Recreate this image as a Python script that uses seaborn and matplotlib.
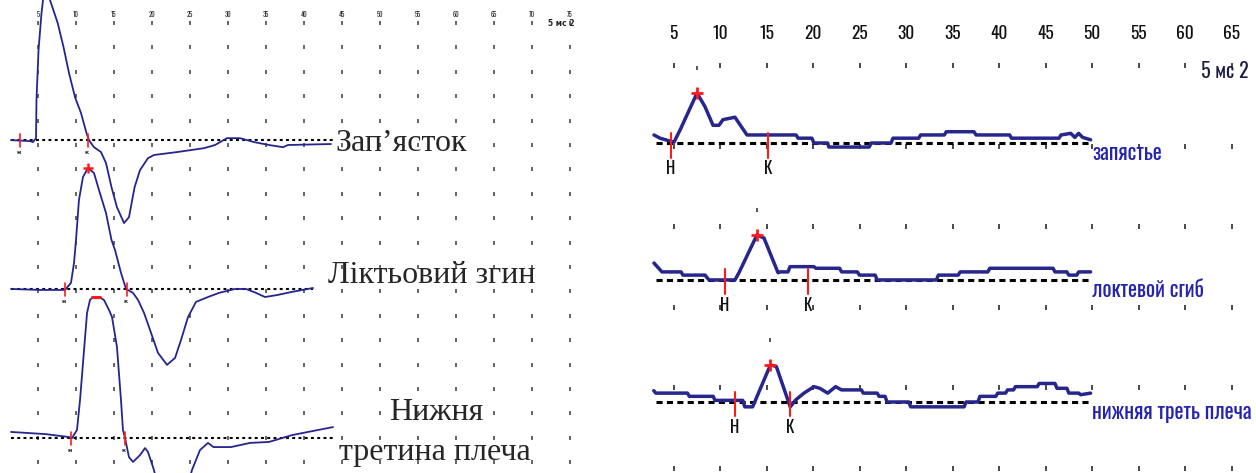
import numpy as np
import pandas as pd
import matplotlib
matplotlib.use("Agg")
import matplotlib.pyplot as plt
import seaborn as sns

sns.set_style("white")
plt.rcParams["font.family"] = ["DejaVu Sans"]

TRACE_L = "#25258f"
TRACE_R = "#26268c"
NARROW = ["Oswald", "Open Sans Condensed", "DejaVu Sans"]
SERIF = ["Liberation Serif", "DejaVu Serif"]

# ---------------- left recording (time in ms, amplitude in grid divisions) ----------------
left_ticks = [5, 10, 15, 20, 25, 30, 35, 40, 45, 50, 55, 60, 65, 70, 75]
left_rows = list(range(0, -19, -1))
left_offsets = [-4.80, -10.90, -17.01]
left_base_end = [44.1, 41.2, 43.8]

wrist_t = [1.45, 3.95, 4.34, 4.74, 4.80, 5.07, 5.46, 5.66, 6.05, 6.58, 7.59, 8.36, 9.08,
           9.87, 10.66, 11.38, 11.71, 12.37, 13.29, 13.95, 14.67, 15.39, 16.32, 16.97,
           17.71, 18.42, 19.47, 20.26, 23.29, 26.84, 28.29, 29.87, 31.58, 33.42, 35.39,
           37.24, 37.89, 43.55]
wrist_a = [0.00, -0.04, -0.08, 0.08, 1.64, 3.69, 5.20, 5.74, 6.56, 5.74, 4.80, 3.81, 2.75,
           1.76, 1.11, 0.29, 0.00, -0.29, -0.49, -0.94, -1.93, -2.75, -3.40, -3.16,
           -1.93, -1.23, -0.74, -0.61, -0.49, -0.33, -0.20, 0.08, 0.08, -0.08, -0.20,
           -0.29, -0.20, -0.16]

elbow_t = [1.45, 5.26, 8.55, 9.34, 9.74, 10.00, 10.39, 10.92, 11.58, 12.37, 13.03, 13.95,
           14.67, 15.13, 15.92, 16.58, 17.50, 18.16, 18.95, 19.74, 20.79, 21.97, 23.03,
           23.82, 24.74, 25.79, 27.37, 28.82, 30.92, 32.37, 33.68, 34.87, 36.45, 38.42,
           41.18]
elbow_a = [0.00, -0.04, -0.04, 0.25, 1.07, 2.01, 3.65, 4.59, 4.96, 4.75, 4.05, 3.11,
           2.01, 1.60, 0.66, 0.00, -0.16, -0.45, -0.98, -1.68, -2.62, -3.11, -2.83,
           -2.09, -1.15, -0.53, -0.33, -0.16, 0.00, 0.00, -0.16, -0.33, -0.25, -0.12,
           0.04]

arm_t = [1.45, 6.05, 9.08, 9.47, 10.13, 10.53, 10.92, 11.45, 11.84, 12.24, 13.03, 13.68,
         14.34, 14.74, 15.39, 15.92, 16.18, 16.45, 16.97, 17.50, 18.42, 19.08, 19.47,
         20.26, 21.05, 22.63, 24.34, 25.26, 26.32, 27.37, 28.09, 30.39, 32.89, 35.39,
         38.42, 40.53, 43.82]
arm_a = [0.25, 0.16, 0.04, 0.00, 0.33, 1.56, 3.07, 5.12, 5.66, 5.78, 5.78, 5.66,
         5.25, 4.96, 3.73, 1.56, 0.33, 0.00, -0.78, -0.98, -0.70, -0.41, -0.57,
         -1.31, -2.34, -2.95, -2.34, -1.31, -0.49, -0.20, -0.37, -0.37, -0.20, -0.16,
         0.12, 0.25, 0.45]

left_onset = [2.63, 8.55, 9.34]
left_end = [11.58, 16.71, 16.45]
left_peak_t = [11.58, 12.65]
left_peak_a = [4.96, 5.78]

# ---------------- right recording ----------------
right_ticks = [5, 10, 15, 20, 25, 30, 35, 40, 45, 50, 55, 60, 65]
right_rows = [0, -1, -2, -3, -4, -5]
right_offsets = [-0.968, -2.667, -4.181]
right_names = ["запястье", "локтевой сгиб", "нижняя треть плеча"]

zap_t = [2.90, 3.55, 5.05, 5.70, 7.53, 8.39, 9.25, 9.89, 10.32, 11.61, 12.90, 18.18,
         18.40, 19.88, 20.10, 21.58, 21.70, 26.04, 26.26, 28.39, 28.60, 31.37, 31.57,
         34.12, 34.33, 37.31, 37.53, 41.14, 41.34, 46.45, 46.67, 47.72, 48.15, 48.56,
         48.99, 49.85]
zap_a = [0.10, 0.06, 0.01, 0.16, 0.62, 0.45, 0.22, 0.22, 0.29, 0.32, 0.10, 0.10,
         0.06, 0.06, 0.00, 0.00, -0.05, -0.05, 0.00, 0.00, 0.06, 0.06, 0.10,
         0.10, 0.14, 0.14, 0.10, 0.10, 0.06, 0.06, 0.10, 0.12, 0.07, 0.12,
         0.07, 0.04]

lok_t = [2.90, 3.76, 5.81, 6.02, 8.39, 8.82, 11.61, 12.04, 13.98, 14.73, 16.24, 16.45,
         17.31, 17.53, 20.10, 20.31, 22.86, 23.08, 24.77, 24.99, 26.69, 26.90, 33.27,
         33.48, 35.61, 35.83, 38.80, 39.01, 45.81, 46.02, 47.30, 47.51, 48.36, 48.57,
         49.85]
lok_a = [0.21, 0.10, 0.10, 0.06, 0.06, 0.00, 0.00, 0.09, 0.56, 0.52, 0.09, 0.10,
         0.10, 0.165, 0.165, 0.145, 0.145, 0.10, 0.10, 0.06, 0.06, 0.00, 0.00,
         0.06, 0.06, 0.10, 0.10, 0.145, 0.145, 0.10, 0.10, 0.06, 0.06, 0.10,
         0.10]

ple_t = [2.88, 3.10, 6.50, 6.71, 9.26, 9.47, 12.45, 12.66, 13.51, 15.42, 16.06, 17.55,
         18.18, 19.03, 20.10, 20.73, 21.58, 22.43, 23.07, 25.20, 25.41, 26.90, 27.11,
         27.75, 27.96, 30.30, 30.51, 36.25, 36.46, 37.73, 37.95, 39.65, 39.86, 40.71,
         40.92, 41.56, 41.77, 44.11, 44.32, 46.02, 46.23, 47.30, 47.51, 48.57, 48.78,
         49.85]
ple_a = [0.14, 0.11, 0.11, 0.07, 0.07, 0.02, 0.02, -0.06, -0.06, 0.46, 0.44, -0.06,
         0.03, 0.11, 0.19, 0.17, 0.11, 0.19, 0.15, 0.15, 0.11, 0.11, 0.07,
         0.07, 0.00, 0.00, -0.06, -0.06, 0.00, 0.00, 0.07, 0.07, 0.11, 0.11,
         0.15, 0.15, 0.19, 0.19, 0.23, 0.23, 0.17, 0.17, 0.11, 0.11, 0.09,
         0.11]

right_onset = [4.73, 10.54, 11.61]
right_end = [15.16, 19.46, 17.53]
right_peak_t = [7.53, 13.98, 15.42]
right_peak_a = [0.62, 0.56, 0.46]

# ---------------- figure ----------------
W, H = 1256, 473
fig = plt.figure(figsize=(W / 100, H / 100), dpi=100)
split = 620
axL = fig.add_axes([0, 0, split / W, 1])
axR = fig.add_axes([split / W, 0, (W - split) / W, 1])

axL.set_xlim(0, split / 7.6)
axL.set_ylim(-(H - 23) / 24.4, 23 / 24.4)
axR.set_xlim((split - 627) / 9.3, (W - 627) / 9.3)
axR.set_ylim(-(H - 65) / 80.6, 65 / 80.6)
for ax in (axL, axR):
    ax.set_axis_off()

# dot grids
gx, gy = np.meshgrid(left_ticks, left_rows)
axL.plot(gx.ravel(), gy.ravel(), ls="none", marker="|", ms=2.6, mew=1.1,
         color="#3a3a3a", zorder=1)
gx, gy = np.meshgrid(right_ticks, right_rows)
axR.plot(gx.ravel(), gy.ravel(), ls="none", marker="|", ms=3.6, mew=1.3,
         color="#3a3a3a", zorder=1)

# time labels along the top
for t in left_ticks:
    axL.text(t, 0.33, str(t), ha="center", va="center", fontsize=4.8,
             fontweight="bold", family=NARROW, color="#222222")
for t in right_ticks:
    axR.text(t, 0.385, str(t), ha="center", va="center", fontsize=12.5,
             fontweight="bold", family=NARROW, color="#111111")
axL.text(73.9, -0.04, "5 мс 2", ha="center", va="center", fontsize=5.5,
         fontweight="bold", color="#222222")
axR.text(64.3, -0.07, "5 мс 2", ha="center", va="center", fontsize=14.5,
         family=NARROW, color="#1b1b4a")

# left traces
left_traces = [(wrist_t, wrist_a), (elbow_t, elbow_a), (arm_t, arm_a)]
for (t, a), off, bend in zip(left_traces, left_offsets, left_base_end):
    axL.plot([1.45, bend], [off, off], color="black", lw=1.5,
             ls=(0, (1.4, 1.6)), zorder=2)
    df = pd.DataFrame({"t": t, "y": np.asarray(a) + off})
    sns.lineplot(data=df, x="t", y="y", ax=axL, sort=False, estimator=None,
                 color=TRACE_L, lw=1.3, zorder=3)

for on, en, off in zip(left_onset, left_end, left_offsets):
    for x, lab in ((on, "н"), (en, "к")):
        axL.plot([x, x], [off + 0.25, off - 0.3], color="#ff1a1a", lw=1.2, zorder=4)
        axL.text(x - 0.2, off - 0.5, lab, ha="center", va="center", fontsize=4.5,
                 fontweight="bold", color="#222222")
axL.plot(left_peak_t[0], left_peak_a[0] + left_offsets[1], marker="+", ms=7, mew=1.8,
         color="#ff1a1a", zorder=5)
axL.plot([left_peak_t[1] - 0.5, left_peak_t[1] + 0.5],
         [left_peak_a[1] + left_offsets[2]] * 2, color="#ff1a1a", lw=2.2, zorder=5)

axL.text(44.2, -4.92, "Зап’ясток", ha="left", va="center", fontsize=23, family=SERIF)
axL.text(43.2, -10.33, "Ліктьовий згин", ha="left", va="center", fontsize=23, family=SERIF)
axL.text(57.4, -15.98, "Нижня", ha="center", va="center", fontsize=23, family=SERIF)
axL.text(57.2, -17.6, "третина плеча", ha="center", va="center", fontsize=23, family=SERIF)

# right traces
right_traces = [(zap_t, zap_a), (lok_t, lok_a), (ple_t, ple_a)]
for (t, a), off, name in zip(right_traces, right_offsets, right_names):
    axR.plot([3.1, 49.8], [off, off], color="black", lw=2.2,
             ls=(0, (2.0, 1.4)), zorder=2)
    df = pd.DataFrame({"t": t, "y": np.asarray(a) + off})
    sns.lineplot(data=df, x="t", y="y", ax=axR, sort=False, estimator=None,
                 color=TRACE_R, lw=2.5, zorder=3)
    axR.text(50.0, off - 0.13, name, ha="left", va="center", fontsize=15.5,
             family=NARROW, color="#2424b0")

for on, en, off in zip(right_onset, right_end, right_offsets):
    for x, lab in ((on, "Н"), (en, "К")):
        axR.plot([x, x], [off + 0.13, off - 0.18], color="#ff1a1a", lw=1.5, zorder=4)
        axR.text(x, off - 0.32, lab, ha="center", va="center", fontsize=12,
                 family=NARROW, color="#111111")
for pt, pa, off in zip(right_peak_t, right_peak_a, right_offsets):
    axR.plot(pt, pa + off, marker="+", ms=9, mew=2, color="#ff1a1a", zorder=5)
    axR.plot(pt, pa + off + 0.31, marker="|", ms=3, mew=1.2, color="#3a3a3a", zorder=1)

fig.savefig("out.png", dpi=100)
